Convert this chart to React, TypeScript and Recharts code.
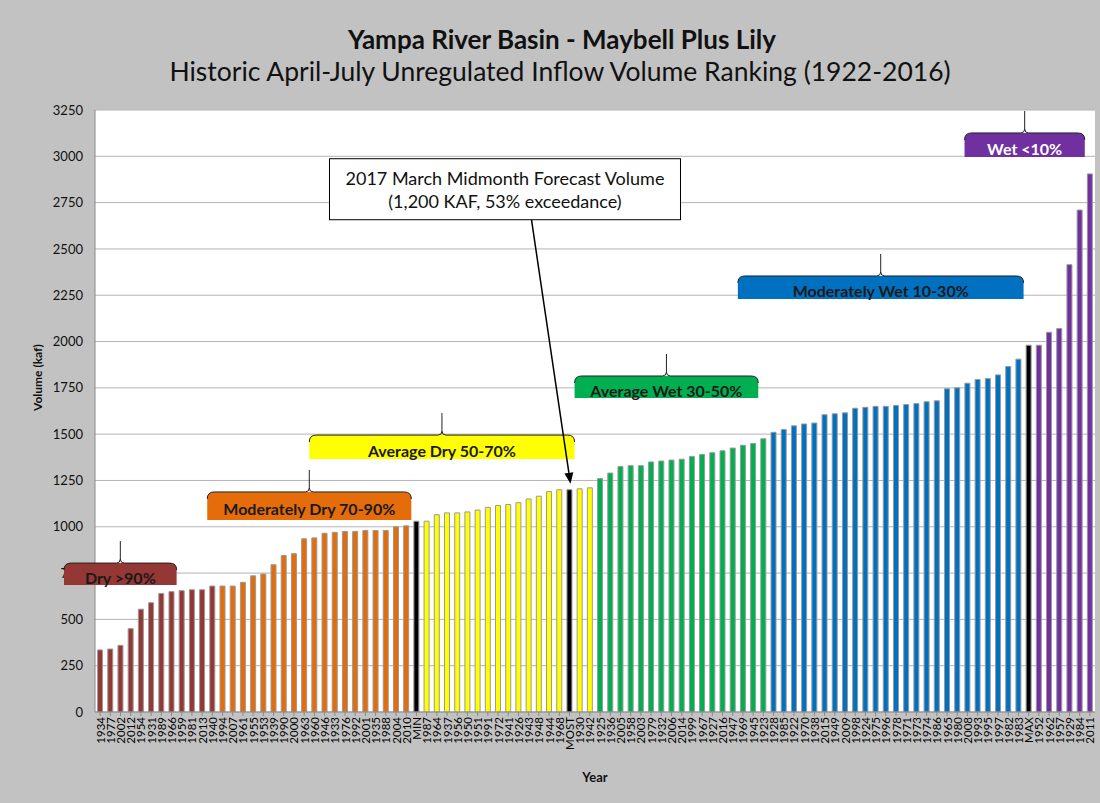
import {
  BarChart,
  Bar,
  XAxis,
  YAxis,
  CartesianGrid,
  Cell,
  ReferenceArea,
  ReferenceDot,
  Label,
} from 'recharts';

// ranked years, driest to wettest, split by exceedance class
const dryYears = ['1934', '1977', '2002', '2012', '1954', '1931', '1989', '1966', '1959', '1981', '2013', '1940'];
const dryValues = [335, 340, 360, 450, 555, 590, 640, 650, 655, 660, 660, 680];

const modDryYears = ['1994', '2007', '1961', '1955', '1953', '1939', '1990', '2000', '1963', '1960', '1946', '1933', '1976', '1992', '2001', '1935', '1988', '2004', '2010'];
const modDryValues = [680, 680, 700, 735, 745, 795, 845, 855, 935, 940, 965, 970, 975, 975, 980, 980, 980, 1000, 1005];

const avgDryYearsLow = ['1987', '1964', '1937', '1956', '1950', '1951', '1991', '1972', '1941', '1926', '1943', '1948', '1944', '1968'];
const avgDryValuesLow = [1030, 1065, 1075, 1075, 1080, 1090, 1105, 1115, 1120, 1130, 1150, 1165, 1190, 1200];
const avgDryYearsHigh = ['1930', '1942'];
const avgDryValuesHigh = [1205, 1210];

const avgWetYears = ['1925', '1936', '2005', '1958', '2003', '1979', '1932', '2006', '2014', '1999', '1967', '1927', '2016', '1947', '1969', '1945', '1923'];
const avgWetValues = [1260, 1290, 1325, 1330, 1330, 1350, 1355, 1360, 1365, 1380, 1390, 1400, 1410, 1425, 1440, 1450, 1475];

const modWetYears = ['1928', '1985', '1922', '1970', '1938', '2015', '1949', '2009', '1998', '1924', '1975', '1996', '1978', '1971', '1973', '1974', '1986', '1965', '1980', '2008', '1993', '1995', '1997', '1982', '1983'];
const modWetValues = [1510, 1525, 1545, 1555, 1560, 1605, 1610, 1615, 1640, 1645, 1650, 1650, 1655, 1660, 1665, 1675, 1680, 1745, 1750, 1775, 1795, 1800, 1820, 1865, 1905];

const wetYears = ['1952', '1962', '1957', '1929', '1984', '2011'];
const wetValues = [1980, 2050, 2070, 2415, 2710, 2905];

// 2017 March midmonth forecast
const forecastLabels = ['MIN', 'MOST', 'MAX'];
const forecastValues = [1030, 1200, 1980];

const yTicks = [0, 250, 500, 750, 1000, 1250, 1500, 1750, 2000, 2250, 2500, 2750, 3000, 3250];

const colors: Record<string, string> = {
  dry: '#953735',
  modDry: '#E46C0A',
  avgDry: '#FFFF00',
  avgWet: '#00B050',
  modWet: '#0070C0',
  wet: '#7030A0',
  forecast: '#000000',
};

const segments: [string, string[], number[]][] = [
  ['dry', dryYears, dryValues],
  ['modDry', modDryYears, modDryValues],
  ['forecast', [forecastLabels[0]], [forecastValues[0]]],
  ['avgDry', avgDryYearsLow, avgDryValuesLow],
  ['forecast', [forecastLabels[1]], [forecastValues[1]]],
  ['avgDry', avgDryYearsHigh, avgDryValuesHigh],
  ['avgWet', avgWetYears, avgWetValues],
  ['modWet', modWetYears, modWetValues],
  ['forecast', [forecastLabels[2]], [forecastValues[2]]],
  ['wet', wetYears, wetValues],
];

const data = segments.flatMap(([cls, labels, values]) =>
  labels.map((year, i) => ({ year, volume: values[i], cls }))
);
const cat = (i: number) => data[i].year;

// class brackets: category span + box bottom/top in kaf
const braces = [
  { label: 'Dry >90%', x1: cat(0), x2: cat(7), y1: 686, y2: 804, cls: 'dry', text: '#1a1a1a', padLeft: 31 },
  { label: 'Moderately Dry 70-90%', x1: cat(11), x2: cat(30), y1: 1037, y2: 1188, cls: 'modDry', text: '#1a1a1a', padLeft: 0 },
  { label: 'Average Dry 50-70%', x1: cat(21), x2: cat(46), y1: 1366, y2: 1495, cls: 'avgDry', text: '#1a1a1a', padLeft: 0 },
  { label: 'Average Wet 30-50%', x1: cat(47), x2: cat(64), y1: 1695, y2: 1814, cls: 'avgWet', text: '#1a1a1a', padLeft: 0 },
  { label: 'Moderately Wet 10-30%', x1: cat(63), x2: cat(90), y1: 2230, y2: 2354, cls: 'modWet', text: '#1a1a1a', padLeft: 0 },
  { label: 'Wet <10%', x1: cat(86), x2: cat(96), y1: 2996, y2: 3126, cls: 'wet', text: '#ffffff', padLeft: 8 },
];

const FONT = 'Lato, "Open Sans", sans-serif';

const Brace = (props: any) => {
  const { x, y, width, height, cfg } = props;
  const left = x - cfg.padLeft;
  const right = x + width;
  const top = y;
  const bottom = y + height;
  const mid = (left + right) / 2;
  const r = 7;
  return (
    <g>
      <path
        d={`M${left},${bottom} L${left},${top + r} Q${left},${top} ${left + r},${top} L${right - r},${top} Q${right},${top} ${right},${top + r} L${right},${bottom} Z`}
        fill={colors[cfg.cls]}
      />
      <path
        d={`M${left},${top + r} Q${left},${top} ${left + r},${top} L${mid - 4},${top} Q${mid},${top} ${mid},${top - 4} L${mid},${top - 22} M${mid},${top - 4} Q${mid},${top} ${mid + 4},${top} L${right - r},${top} Q${right},${top} ${right},${top + r}`}
        fill="none"
        stroke="#222"
        strokeWidth={1}
      />
      <text
        x={mid}
        y={(top + bottom) / 2 + 3}
        textAnchor="middle"
        dominantBaseline="central"
        fontFamily={FONT}
        fontWeight={700}
        fontSize={16}
        fill={cfg.text}
      >
        {cfg.label}
      </text>
    </g>
  );
};

const ForecastCallout = (props: any) => {
  const { cx, cy } = props;
  const boxL = cx - 240;
  const boxR = cx + 111;
  const boxT = cy - 331;
  const boxB = cy - 270;
  const tailX = cx - 38;
  const headX = cx + 1;
  const headY = cy - 6;
  const ang = Math.atan2(headY - boxB, headX - tailX);
  const ah = 11;
  const aw = 4.5;
  const bx = headX - ah * Math.cos(ang);
  const by = headY - ah * Math.sin(ang);
  return (
    <g>
      <line x1={tailX} y1={boxB} x2={bx} y2={by} stroke="#000" strokeWidth={1.5} />
      <path
        d={`M${headX},${headY} L${bx + aw * Math.sin(ang)},${by - aw * Math.cos(ang)} L${bx - aw * Math.sin(ang)},${by + aw * Math.cos(ang)} Z`}
        fill="#000"
      />
      <rect x={boxL} y={boxT} width={boxR - boxL} height={boxB - boxT} fill="#fff" stroke="#000" strokeWidth={1} />
      <text x={(boxL + boxR) / 2} y={boxT + 19} textAnchor="middle" dominantBaseline="central" fontFamily={FONT} fontSize={18} fill="#111">
        2017 March Midmonth Forecast Volume
      </text>
      <text x={(boxL + boxR) / 2} y={boxT + 42} textAnchor="middle" dominantBaseline="central" fontFamily={FONT} fontSize={18} fill="#111">
        (1,200 KAF, 53% exceedance)
      </text>
    </g>
  );
};

const YearTick = ({ x, y, payload }: any) => (
  <text
    x={x}
    y={y}
    transform={`rotate(-90, ${x}, ${y})`}
    textAnchor="end"
    dominantBaseline="central"
    fontFamily={FONT}
    fontSize={11.5}
    fill="#000"
  >
    {payload.value}
  </text>
);

export default function App() {
  return (
    <div style={{ position: 'relative', width: 1100, height: 803, background: '#c2c2c2', fontFamily: FONT }}>
      <style>{'body{margin:0}'}</style>
      <div style={{ position: 'absolute', top: 23, left: 12, width: 1100, textAlign: 'center', fontSize: 26, fontWeight: 700, color: '#111' }}>
        Yampa River Basin - Maybell Plus Lily
      </div>
      <div style={{ position: 'absolute', top: 55, left: 10, width: 1100, textAlign: 'center', fontSize: 26.5, color: '#111' }}>
        Historic April-July Unregulated Inflow Volume Ranking (1922-2016)
      </div>
      <div style={{ position: 'absolute', top: 0, left: 0 }}>
        <BarChart
          width={1100}
          height={803}
          data={data}
          margin={{ top: 110, right: 5, left: 0, bottom: 0 }}
          barCategoryGap="25%"
        >
          <CartesianGrid vertical={false} stroke="#b4b4b4" fill="#ffffff" />
          <XAxis
            dataKey="year"
            interval={0}
            height={91}
            tick={<YearTick />}
            tickSize={4}
            tickMargin={1}
            stroke="#8a8a8a"
          >
            <Label value="Year" position="insideBottom" offset={21} fontFamily={FONT} fontSize={13} fontWeight={700} fill="#111" />
          </XAxis>
          <YAxis
            width={95}
            domain={[0, 3250]}
            ticks={yTicks}
            allowDataOverflow
            tickLine={false}
            tickMargin={6}
            stroke="#8a8a8a"
            tick={{ fontSize: 13, fill: '#111', fontFamily: FONT }}
          >
            <Label value="Volume (kaf)" angle={-90} position="insideLeft" offset={38} fontFamily={FONT} fontSize={12} fontWeight={700} fill="#111" />
          </YAxis>
          <Bar dataKey="volume" stroke="#9a9a9a" strokeWidth={1} isAnimationActive={false}>
            {data.map((d) => (
              <Cell key={d.year} fill={colors[d.cls]} />
            ))}
          </Bar>
          {braces.map((b) => (
            <ReferenceArea
              key={b.label}
              x1={b.x1}
              x2={b.x2}
              y1={b.y1}
              y2={b.y2}
              ifOverflow="visible"
              zIndex={2000}
              shape={(p: any) => <Brace {...p} cfg={b} />}
            />
          ))}
          <ReferenceDot
            x={forecastLabels[1]}
            y={forecastValues[1]}
            ifOverflow="visible"
            zIndex={2000}
            shape={(p: any) => <ForecastCallout {...p} />}
          />
        </BarChart>
      </div>
    </div>
  );
}
